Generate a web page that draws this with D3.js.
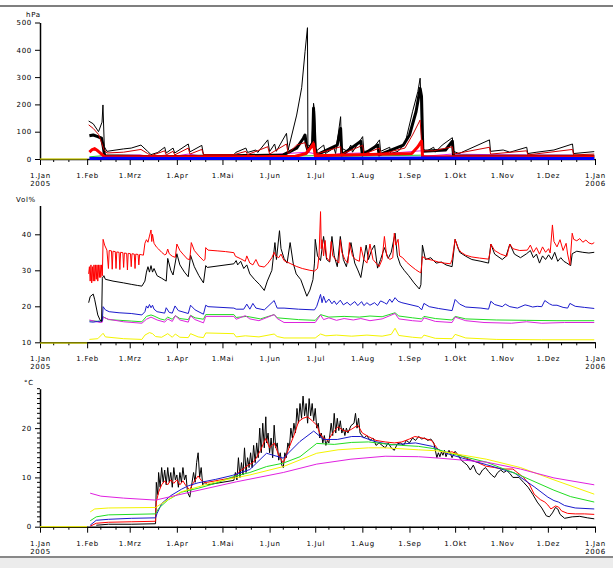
<!DOCTYPE html>
<html>
<head>
<meta charset="utf-8">
<script src="https://cdn.jsdelivr.net/npm/d3@7"></script>
<style>
  body { margin: 0; background: #fff; }
  svg text { font-family: "DejaVu Sans", sans-serif; font-size: 7px; letter-spacing: 0.7px; fill: #000; }
</style>
</head>
<body>
<svg id="chart" width="613" height="568"></svg>
<script>
// values are [day of year 2005, value]; null breaks the line
const monthNames = ['Jan','Feb','Mrz','Apr','Mai','Jun','Jul','Aug','Sep','Okt','Nov','Dez','Jan'];

// ---- soil water tension, hPa
const hpaBlack = [[32,139],[35,129],[38.5,100],[40.8,135],[41.4,198],[42.3,45],[44,28],[50,33],[55,37],[60,40],[66.4,51],[70.8,28],[73,16],[77.5,24],[82,43],[83,22],[87.5,40],[88.6,22],[97.5,55],[98.6,26],[106.4,50],[107.5,16],[127.6,16],[128.7,24],[135.4,40],[136.5,24],[142,33],[143.2,24],[149.8,70],[151,27],[154.3,55],[155.4,28],[162.1,94],[163.2,33],[168.8,161],[172.1,261],[174.3,393],[175.9,481],[176.2,51],[178.8,45],[179.9,204],[180.6,174],[181.4,28],[186.6,51],[187.7,20],[193.3,40],[194.4,20],[197.7,155],[198.3,40],[202.2,28],[204.4,51],[205.5,25],[212.2,82],[213,28],[217.7,30],[223.3,70],[224,28],[230,43],[230.7,20],[235.5,28],[240,55],[245,173],[248.5,247],[250,296],[250.6,210],[251.2,40],[254,28],[258.9,43],[260,25],[264.5,51],[271.2,78],[271.9,28],[275.6,20],[295.6,70],[296.3,28],[304.6,33],[309,25],[320.1,43],[320.8,20],[326.8,25],[338,33],[350.2,55],[350.9,20],[364.5,27]];
const hpaBlackThick = [[32.5,85],[35,88],[38,82],[40.5,76],[41.6,45],[42.5,12],[60,10],[75,8],[107.5,10],[127.6,12],[150,14],[160,15],[168.8,40],[173.2,76],[174.3,88],[175.2,50],[176.3,30],[179.3,60],[179.9,186],[181,40],[182,15],[195.5,51],[197.7,112],[198.5,15],[211,65],[212,15],[222.2,51],[223,15],[239,51],[243,88],[247.3,173],[250,258],[250.9,230],[251.8,28],[266.7,33],[271.2,65],[272,10],[300,10],[364.5,10]];
const hpaRed = [[32,125],[35,112],[38.5,90],[40.5,60],[42,35],[44,22],[55,25],[66.4,35],[70.8,20],[73,12],[82,30],[83,15],[87.5,28],[88.6,15],[97.5,40],[98.6,18],[106.4,35],[107.5,16],[127.6,16],[135.4,28],[136.5,16],[149.8,45],[151,18],[162.1,55],[163.2,20],[168.8,51],[174.3,60],[176.2,30],[179.9,65],[181.4,18],[197.7,45],[198.3,18],[212.2,50],[213,18],[223.3,40],[224,18],[240,40],[245,88],[250,143],[251.3,30],[258.9,30],[271.2,45],[271.9,18],[295.6,43],[296.3,18],[320.1,30],[320.8,15],[350.2,35],[350.9,15],[364.5,18]];
const hpaRedThick = [[32.5,25],[34,33],[36,38],[38,30],[40.5,18],[42.5,8],[70,8],[127.6,8],[168,10],[175,20],[179.9,55],[181,12],[244.5,20],[248.5,45],[250.9,66],[251.6,8],[364.5,8]];
const hpaMagenta = [[32.5,30],[35,35],[38,28],[41,18],[43,12],[66,15],[73,8],[82,14],[88,10],[97.5,18],[107.5,10],[127.6,8],[150,15],[162,20],[176,25],[180,20],[182,8],[198,20],[212,22],[224,18],[250.5,30],[252.5,10],[271,18],[296,16],[320,15],[350,14],[364.5,12]];
const hpaGreen = [[32.5,8],[41,12],[43,6],[66,10],[73,5],[107,6],[128,8],[160,10],[180,12],[200,10],[250.5,14],[258,6],[280,16],[290,14],[300,8],[364.5,10]];
const hpaBlue = [[32.5,2],[45,3],[100,2],[180,2],[250,4],[280,3],[364.5,2]];
const hpaYellow = [[0,0],[31,0],[31.5,null],[33,5],[45,6],[73,4],[80,2],[107,3],[150,4],[200,5],[250,6],[300,4],[364.5,5]];

// ---- soil moisture, Vol%
const volRed = [[32,29],[32.5,31],[33,27],[33.5,31.5],[34,26.5],[34.5,31],[35,27],[35.5,31.5],[36,27],[36.5,31.5],[37,27.5],[37.5,31.5],[38,27],[38.5,31.5],[39,28],[39.5,31.5],[40,28],[40.5,31.5],[41,28.5],[41.5,38.6],[42.5,37],[44,35.6],[45,30.5],[45.5,35.5],[47,35.4],[47.5,30.3],[48,35.3],[49.5,35.2],[50,30.5],[50.5,35.1],[52,35],[52.5,30.2],[53,35],[54.5,34.9],[55,30.8],[55.5,34.8],[57,34.7],[57.5,30.1],[58,34.7],[59.5,34.6],[60,31],[60.5,34.6],[62,34.5],[62.5,30.5],[63,34.5],[64.5,34.4],[65,31.5],[65.5,34.4],[67,34.3],[68,34.2],[69,37.5],[70,38.5],[71,37.8],[72,39.5],[73,41.2],[73.5,38],[74,40],[75,37.5],[76.5,36.5],[78,35.9],[80,35],[82,34.3],[83,34.5],[84,35.9],[85,34.6],[87,33.9],[89,33.6],[90,37.3],[92,35.5],[94,34.5],[97,33.1],[98.5,33],[99.5,37.7],[101.5,35.5],[104.5,34],[107.5,32.7],[108.5,33],[109,36.3],[110.5,35.6],[116.5,35.4],[122,35.2],[127.5,34.9],[128.5,33.9],[132,33.2],[135,32.5],[136,34],[138,32],[140,31.5],[142,33],[144,31.2],[147.5,30.9],[150,32],[152.5,33.5],[154,35],[155,34],[157,33.5],[158.5,34.5],[160.5,32.7],[164.5,31.9],[168.5,31.1],[172.5,30.5],[177.5,30.0],[180.5,29.8],[182.5,30.5],[183.5,34],[184.5,46.3],[185,36],[185.5,38.5],[186.5,34],[187.5,38.3],[188.5,33.5],[190.5,32.5],[191.5,38.0],[192.5,34],[194.5,33],[196.5,32],[197.5,38.5],[198.5,35],[200.5,33],[202.5,32],[203.5,37.7],[205.5,34],[207.5,33],[210,32.5],[211,36.5],[213,33],[215,32],[217,37.3],[219,33],[221,32],[223,31],[225,33],[226.5,39.4],[228,34],[230,33],[232,33.5],[233,40.3],[234,37],[235.5,38.6],[236.5,34],[238.5,33.5],[241,32.3],[244,31.2],[247,30.2],[249.5,29.5],[250.5,29.3],[251.5,33.8],[254,33.2],[258,32.8],[262,32.3],[266,32],[270,31.8],[271,33],[273,38.6],[275,36],[277,35],[280,34.2],[284,33.7],[289,33.4],[295,33.1],[296,35],[296.5,37.3],[299,35.5],[303,34.5],[307,33.9],[309,37.3],[311,36],[315.5,35.5],[320.5,35.6],[322.5,37],[324.5,35],[326.5,36.3],[328.5,34.5],[330.5,36.5],[332.5,35],[334.5,36],[335.5,34.8],[337,42.6],[338,38],[340,36.5],[342,38.5],[344,35.5],[346,37.5],[347,34.5],[348.5,31.5],[350,40.3],[351,38.6],[353,38.2],[355,38.8],[357,37.8],[359,38.4],[361,37.6],[363,37.3],[364.5,37.7]];
const volBlack = [[32,21],[33,22.7],[35,23.4],[36,21.8],[38,17.6],[39.5,16.2],[40.5,15.8],[41,27.8],[42,28.5],[43,27.5],[48,27],[55,26.5],[60,26.1],[64,25.8],[67,25.6],[69,27],[70,29.5],[71,31],[72,29.5],[73,31.3],[74,29.5],[75,30.5],[77,28.5],[80,27.8],[83,27],[84,33.3],[86,30],[87.5,28.7],[90,34.6],[92,31.5],[95,29.5],[97.5,28.2],[99,34.2],[101.5,31],[104.5,28.5],[107.5,26.5],[109,31.3],[110,30.8],[127.5,31.8],[129,32.7],[130,31.5],[132,32.5],[134,30.5],[136,31.5],[138,29],[141,27.5],[144.5,26],[147.5,24.4],[149.5,27],[152.5,30],[154.5,37.7],[155.5,33],[157.5,41],[158.5,36],[160.5,33.3],[162.5,32],[164.5,37.7],[166.5,32],[168.5,29],[171.5,27.4],[175.5,22.8],[177.5,24.5],[179.5,27.4],[180.5,32],[181,38.6],[182.5,34],[184.5,32.7],[186.5,39.4],[188.5,33],[190.5,32.3],[192,39.4],[193.5,34],[195.5,31],[197.5,39.4],[199.5,33],[201.5,31],[204.5,37.7],[207,32],[209,30.1],[211,28],[214.5,37],[216,33],[218,35.5],[220,37],[222,30.6],[224,33],[226.5,36.3],[229,33.3],[231,35],[233.5,40.3],[235,34],[237,31.5],[239.5,30],[242.5,28.5],[246,26.5],[249.5,24.8],[250.5,26],[251.5,37],[253.5,33],[257,33.5],[260.5,32],[264,32.3],[267,31.5],[271,31],[273,38.6],[276,35],[280,33.9],[284,33],[290,32.5],[295,32.0],[296.5,37.3],[299,34.5],[304,33],[306.5,33.9],[309,37.3],[312,34.5],[316,33.5],[320,34.6],[322.5,35.5],[324.5,33.5],[326.5,34.5],[328.5,32],[330.5,34],[332.5,33],[334.5,34.3],[336.5,33],[338.5,35],[340.5,32.5],[342.5,33.5],[344.5,32.5],[346.5,32],[349,31.3],[350,34.6],[353,35.3],[357,35],[361,34.8],[364.5,35]];
const volBlue = [[32.5,15.7],[35,15.6],[38,15.8],[41,16],[41.5,19.9],[43,19],[45.5,18.5],[52,18.2],[60,18],[67,17.6],[69,18.5],[70,20.1],[71,19.5],[72,20.5],[73,19.6],[74,20.3],[75,19.2],[77,18.5],[82,18.1],[83,19.6],[85,18.3],[87,18.1],[88.8,20.1],[91,18.8],[97.5,18],[99,20.3],[102,19],[107.5,17.8],[109,20.3],[110.5,19.9],[127.5,19.5],[129,19.2],[134,19.2],[136,20.6],[138,19.2],[140,20.8],[142,19.5],[147.5,19.0],[154,21.6],[155,20.5],[156,19.5],[160.5,19.5],[170,19.2],[180.5,19.0],[182,20],[184.5,23.3],[185.5,21],[186.5,22.8],[188,21],[190,22],[192,20.7],[193.5,21.5],[195,20.5],[197.5,21.7],[199.5,20.4],[202,21.1],[204,20.3],[207,21.3],[209,20.2],[211.5,21.3],[213,20.2],[215,21.0],[217,20.3],[220,21.0],[222,20.2],[224,21.5],[226.5,21.0],[228,20.6],[230,22],[231.5,21.1],[233.5,22.4],[235.5,21.4],[238,21.0],[244,20.4],[249,19.9],[251,19.0],[252.5,20.8],[256,19.9],[262,19.4],[271,18.8],[273,21.9],[276,20.6],[280,19.8],[290,19.5],[295,19.2],[296.5,21.4],[299,20.5],[304,19.9],[306,20.6],[309,19.9],[314,19.5],[319,20.4],[321,20.2],[324,19.8],[327,20.0],[330,19.9],[332,21.6],[335,20.7],[337,20.3],[340,20.3],[344,19.7],[347,19.5],[348.5,20.8],[352,20.0],[358,19.7],[364.5,19.4]];
const volGreen = [[32.5,16.0],[39.5,15.8],[41,16],[41.5,17.1],[45,16.3],[60,15.9],[67,15.7],[70,17.2],[73,17.6],[75,17.3],[79,16.5],[82,16.2],[84,17.0],[87,16.4],[89,17.4],[92,16.6],[97.5,16.3],[99,17.5],[102,16.8],[107.5,16.4],[109,17.7],[127.5,17.7],[129,16.9],[136,17.2],[145,16.5],[154,17.7],[156,16.8],[170,16.3],[181,16.1],[184.5,17.7],[190,17.0],[200,17.2],[210,17.0],[217,17.3],[225,17.1],[233.5,18.2],[236,17.3],[245,16.8],[251,16.5],[252.5,17.2],[260,16.6],[271,16.2],[273,17.2],[280,16.5],[300,16.2],[320,16.1],[340,16.0],[364.5,16.0]];
const volMagenta = [[32.5,16.2],[39.5,15.5],[41,15.6],[41.5,17.0],[45,16.4],[55,15.7],[67,15.3],[70,16.4],[73,17.0],[77,16.2],[82,15.6],[84,16.5],[87,15.8],[89,17.4],[92,16.2],[97.5,15.6],[99,17.4],[102,16.3],[107.5,15.4],[109,17.2],[127.5,17.2],[129,16.4],[135,17.4],[138,16.5],[144,16.0],[154,17.7],[156,16.6],[160.5,15.5],[181,15.5],[184.5,17.6],[186.5,16.3],[190,16.8],[195,16.1],[200,16.6],[206,16.2],[211,16.6],[217,16.0],[225,16.5],[233.5,18.0],[236,16.5],[245,16.0],[251,15.8],[252.5,16.8],[260,15.8],[271,15.5],[273,17.0],[280,16.0],[292,15.5],[310,15.3],[320,15.7],[330,15.3],[345,15.5],[364.5,15.5]];
const volYellow = [[0,9.8],[31,9.8],[31.5,null],[32.5,10.8],[38,11.0],[41.5,12.5],[43,11.5],[55,11.0],[67,10.8],[69,12.0],[72,12.7],[74,12.4],[76,11.6],[80,11.4],[84,12.4],[87,11.4],[89,12.3],[92,11.4],[97.5,11.3],[99,12.4],[104,11.5],[107.5,11.3],[109,12.6],[127.5,12.4],[129,11.5],[135,11.8],[144,11.5],[154,12.3],[156,11.6],[160.5,11.2],[181,11.2],[184.5,12.3],[188,11.8],[195,12.0],[205,11.7],[215,12.0],[225,11.7],[231,12.2],[233.5,13.9],[236,11.9],[245,11.4],[251,11.2],[252.5,12.0],[260,11.1],[271,11.0],[273,12.2],[280,11.2],[300,10.8],[330,10.7],[364.5,10.7]];

// ---- soil temperature, °C
const tempBlack = [[37,0.3],[45,0.5],[60,0.5],[76,0.6],[76.5,9],[77.5,6.5],[78,11],[79,8],[80,12],[81,9],[82,11.5],[83,8.5],[84,12],[85,9],[86,11],[87,8],[88,12],[89,9.5],[90,10.5],[91,8],[92,11],[93,9],[94,12],[95,9.5],[96,10.5],[97,7],[98.5,6],[100,9],[101,11],[102,9],[103,13],[104,15],[105,10],[106,12],[107,8.5],[108.5,9],[110,8.5],[127.5,9.4],[128.5,11],[129.5,9.5],[130.5,14],[131.5,10],[132.5,13],[133.5,10.5],[134.5,16],[135.5,11],[136.5,14],[137.5,12],[138.5,15],[139.5,12],[140.5,16.5],[141.5,13],[142.5,17],[143.5,14],[144.5,20],[145.5,15],[146.5,21],[147.5,16],[148.5,22.3],[149,17],[150,19],[151,15],[152,18],[153,14],[154,20.6],[155,16],[156,17],[157,13.5],[158,15],[159,12.5],[160,12],[161,15],[162,14],[163,17],[164,16],[165,20],[166,18],[167,21],[168,19],[169,24],[170,21],[171,25],[172,22],[173,26.5],[174,22.5],[175,25],[176,21],[177,26],[178,22.5],[179,25],[180,21.5],[181,24],[182,20],[183,21],[184,18],[185,19],[186,17],[187,18.5],[188,16.5],[189,17.5],[190,17],[191.5,21],[192.5,18.5],[193.5,23],[194.5,19],[195.5,22],[196.5,19.5],[197.5,21.5],[198.5,19],[199.5,20],[200.5,18.5],[201.5,20],[202.5,19],[204.5,20.5],[206.5,21],[207.5,23],[208.5,20],[209.5,22],[210.5,19],[213,18],[215,18.5],[217,17.5],[219,18],[221,16.5],[223,17],[225,16.5],[227,16],[229,17],[231,16],[233,15.5],[235,16.8],[237,17],[239,16.5],[241,17.5],[243,17],[245,18],[247,17.5],[249,18.3],[251,17.8],[253,18],[255,17.5],[257,17.8],[259,17],[260,15.5],[261,14],[262,15],[263,14.2],[264,15.2],[265,14.5],[266,15.5],[267,14.2],[268,15],[269,15.5],[271,14],[273,15.3],[275,14.5],[277,13.5],[279,13],[281,12.5],[283,11.5],[285,12.5],[287,11],[289,10.5],[291,11.5],[293,12],[295,11.2],[297,10.5],[299,10],[301,11],[303,11.5],[305,11],[307,11.4],[309,10.8],[311,10],[315,10],[318,9],[321,8],[324,6.6],[327,5],[330,3.8],[333,2.2],[335,2.0],[337,2.8],[339,3.9],[340.5,3.6],[342,2.5],[345,1.7],[350,2.0],[355,2.1],[360,1.8],[364.5,1.6]];
const tempRed = [[33,0.1],[37,0.7],[45,0.9],[60,1.0],[76,1.1],[76.5,5],[78,7],[80,8.5],[82,9.3],[84,8.5],[86,9.5],[88,8.8],[90,9.5],[92,8.5],[94,9.3],[96,8.3],[98.5,7.5],[101,9],[104,10.3],[106,9.4],[108,9],[110,9.0],[127.5,10.0],[131,11.2],[134,11.8],[137,12.5],[140,13.0],[142,13.8],[145,15.5],[148.5,17.9],[151,16],[154,17],[157,14.5],[160,12.9],[162,14.5],[164,16.2],[167,18.5],[170,21.3],[173,22],[176,22.3],[179,21.5],[182,20.6],[184,19],[186.5,17.9],[189.5,17.5],[192.5,19],[196,20.3],[199,19.6],[202,19.3],[205,19.8],[209,20.6],[212,19],[216,18.3],[221,17.5],[227,17.2],[233,17],[238,17.2],[243,17.8],[246.5,18.3],[251.5,18],[257.5,17.5],[261,16],[263,15.4],[267,15],[271,15.2],[276,14.5],[282,13.7],[288,13],[293,12.3],[299,12],[304,11.7],[311,11.7],[318,10],[322,8.5],[325,6.6],[329,5.5],[332,5.0],[334,4.4],[336,3.6],[339,4.2],[341,4.0],[343,3.2],[347,2.7],[352,2.6],[358,2.6],[364.5,2.5]];
const tempBlue = [[33,0.3],[37,1.3],[45,1.5],[60,1.7],[76,1.8],[77,2.7],[80,4.7],[86,6.3],[93,7.6],[97.5,8.3],[104,8.9],[115.5,9.6],[126.5,10.4],[138,11.6],[149,14.9],[160,13.9],[171,17.3],[180,19.4],[186.5,17.7],[195.5,17.7],[205,18.3],[211,18.3],[220,17.3],[231,16.6],[247,17.0],[258,16.3],[267,14.9],[278,13.9],[293.5,12.6],[312,10.9],[325,8.1],[334,6],[338,5.3],[341,5.0],[345,4.3],[352,3.8],[364.5,3.6]];
const tempGreen = [[33,1.2],[37,2.0],[45,2.4],[76,2.6],[78,3.7],[84,5.4],[93,7.0],[104,7.8],[115.5,8.8],[126.5,10.1],[138,11.0],[149,12.2],[160,12.9],[171,14.2],[182,16.9],[193.5,16.7],[205,17.1],[216,17.2],[227,16.8],[238,16.5],[249,16.3],[260,15.8],[271,14.8],[293.5,13.1],[316,10.4],[338,7.4],[349,6.1],[364.5,5.0]];
const tempYellow = [[0,0],[31,0],[31.5,null],[33,3.0],[36,3.6],[45,3.8],[76,3.9],[80,4.7],[93,7.1],[115.5,9.1],[138,10.5],[160,12.2],[182,14.9],[196,15.6],[216,16.0],[227,16.0],[249,15.6],[261,15.4],[271,14.9],[293.5,13.7],[316,12.0],[338,9.5],[364.5,6.6]];
const tempMagenta = [[33,6.8],[40,6.2],[55,5.8],[76,5.4],[100,7.1],[129,9.1],[160,11.0],[182,12.7],[204.5,13.7],[227,14.3],[249,14.2],[263,13.9],[293.5,13.1],[316,11.7],[338,9.9],[364.5,8.5]];

const width = 613;
const height = 568;

const t0 = Date.UTC(2005, 0, 1);
const toDate = d => new Date(t0 + d * 864e5);

const xScale = d3.scaleUtc()
  .domain([new Date(t0), new Date(Date.UTC(2006, 0, 1))])
  .range([40, 595]);

const monthTicks = d3.utcMonth.range(new Date(t0), new Date(Date.UTC(2006, 0, 2)));
const minorTicks = [];
monthTicks.slice(0, 12).forEach(m => {
  minorTicks.push(new Date(Date.UTC(2005, m.getUTCMonth(), 10)));
  minorTicks.push(new Date(Date.UTC(2005, m.getUTCMonth(), 20)));
});

const panels = [
  {
    unit: 'hPa', unitX: 26, unitY: 17,
    y: d3.scaleLinear().domain([0, 500]).range([159, 22.5]),
    ticks: [0, 100, 200, 300, 400, 500], minor: [],
    series: [
      {data: hpaYellow, color: '#f4f400', w: 1},
      {data: hpaGreen, color: '#22cc22', w: 1},
      {data: hpaMagenta, color: '#e020e0', w: 1},
      {data: hpaBlack, color: '#000', w: 1},
      {data: hpaBlackThick, color: '#000', w: 3},
      {data: hpaRed, color: '#cc0000', w: 1},
      {data: hpaRedThick, color: '#ff0000', w: 3},
      {data: hpaBlue, color: '#0000ff', w: 3},
    ]
  },
  {
    unit: 'Vol%', unitX: 16, unitY: 202,
    y: d3.scaleLinear().domain([10, 48]).range([342.3, 205.5]),
    ticks: [10, 20, 30, 40], minor: [],
    series: [
      {data: volYellow, color: '#f4f400', w: 1},
      {data: volGreen, color: '#22dd22', w: 1},
      {data: volMagenta, color: '#dd22dd', w: 1},
      {data: volBlue, color: '#1a1acc', w: 1},
      {data: volBlack, color: '#000', w: 1},
      {data: volRed, color: '#ff0000', w: 1},
    ]
  },
  {
    unit: '°C', unitX: 24, unitY: 385,
    y: d3.scaleLinear().domain([0, 28]).range([526.7, 388.7]),
    ticks: [0, 10, 20], minor: d3.range(1, 29).filter(v => v % 10),
    series: [
      {data: tempBlack, color: '#000', w: 1},
      {data: tempRed, color: '#ff0000', w: 1},
      {data: tempBlue, color: '#1a1acc', w: 1},
      {data: tempGreen, color: '#22dd22', w: 1},
      {data: tempYellow, color: '#f4f400', w: 1},
      {data: tempMagenta, color: '#e020e0', w: 1},
    ]
  }
];

const svg = d3.select('#chart');
svg.append('rect').attr('width', width).attr('height', height).attr('fill', '#fff');

// window frame
svg.append('line').attr('x1', 0).attr('x2', width).attr('y1', 6).attr('y2', 6)
  .attr('stroke', '#000').attr('stroke-width', 1.2);
svg.append('rect').attr('x', 0).attr('y', 558).attr('width', width).attr('height', 10).attr('fill', '#ececec');
svg.append('line').attr('x1', 0).attr('x2', width).attr('y1', 557).attr('y2', 557)
  .attr('stroke', '#888').attr('stroke-width', 2);

panels.forEach(p => {
  const y0 = p.y.range()[0];
  const g = svg.append('g');

  // x axis
  const gx = g.append('g')
    .attr('transform', `translate(0,${y0})`)
    .call(d3.axisBottom(xScale).tickValues(monthTicks).tickSize(6).tickSizeOuter(0).tickPadding(8)
      .tickFormat((d, i) => '1.' + monthNames[i]));
  gx.selectAll('.tick').filter((d, i) => i === 0 || i === 12)
    .append('text')
    .attr('y', 22).attr('dy', '0.71em')
    .text(d => d.getUTCFullYear());
  gx.append('g').selectAll('line').data(minorTicks).join('line')
    .attr('x1', d => xScale(d)).attr('x2', d => xScale(d))
    .attr('y1', 0).attr('y2', 3).attr('stroke', '#000');

  // y axis
  const gy = g.append('g')
    .attr('transform', 'translate(40,0)')
    .call(d3.axisLeft(p.y).tickValues(p.ticks).tickSize(5).tickSizeOuter(0).tickPadding(3));
  gy.append('g').selectAll('line').data(p.minor).join('line')
    .attr('x1', -3).attr('x2', 0)
    .attr('y1', d => p.y(d)).attr('y2', d => p.y(d)).attr('stroke', '#000');
  g.selectAll('.domain').attr('stroke-width', 1.5);
  g.selectAll('.tick text').attr('fill', '#000');

  g.append('text').attr('x', p.unitX).attr('y', p.unitY).text(p.unit);

  const line = d3.line()
    .defined(d => d[1] !== null)
    .x(d => xScale(toDate(d[0])))
    .y(d => p.y(d[1]));

  g.append('g')
    .selectAll('path')
    .data(p.series)
    .join('path')
    .attr('fill', 'none')
    .attr('stroke', s => s.color)
    .attr('stroke-width', s => s.w)
    .attr('stroke-linejoin', 'round')
    .attr('d', s => line(s.data));
});
</script>
</body>
</html>
